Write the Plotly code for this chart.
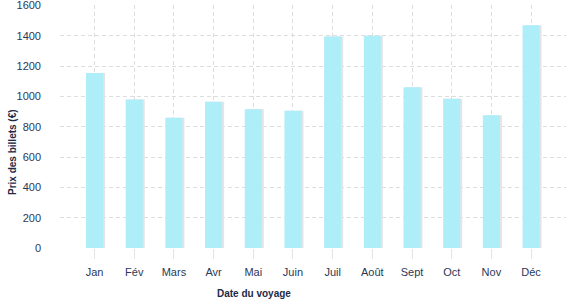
import plotly.graph_objects as go

months = ["Jan", "Fév", "Mars", "Avr", "Mai", "Juin", "Juil", "Août", "Sept", "Oct", "Nov", "Déc"]
prices = [1155, 980, 860, 965, 915, 905, 1395, 1400, 1060, 985, 875, 1470]
y_ticks = [0, 200, 400, 600, 800, 1000, 1200, 1400, 1600]

bar_w = 0.43
fig = go.Figure()
# soft shadow behind each bar
fig.add_trace(go.Bar(x=months, y=prices, width=bar_w, offset=-bar_w / 2 + 0.05,
                     marker=dict(color="#e4e4e4", line=dict(width=0)),
                     hoverinfo="skip", showlegend=False))
fig.add_trace(go.Bar(x=months, y=prices, width=bar_w, offset=-bar_w / 2,
                     marker=dict(color="#aeeef8", line=dict(width=0)),
                     showlegend=False))

font_family = "Liberation Sans, Arial, sans-serif"
text_col = "#2b3856"

fig.update_layout(
    width=577, height=300,
    margin=dict(l=60, r=11, t=5, b=52),
    paper_bgcolor="white", plot_bgcolor="white",
    barmode="overlay",
    font=dict(family=font_family, size=11, color=text_col),
    xaxis=dict(
        type="category", range=[-0.87, 11.88], automargin=False,
        showgrid=True, gridcolor="#dddddd", griddash="4px,3px", gridwidth=1,
        ticks="outside", ticklen=10, tickcolor="#e4e4e4", tickwidth=1,
        ticklabelstandoff=4,
        showline=False, zeroline=False,
        tickfont=dict(size=11, color=text_col),
    ),
    yaxis=dict(
        range=[0, 1603], tickvals=y_ticks, automargin=False,
        showgrid=True, gridcolor="#dddddd", griddash="4px,3px", gridwidth=1,
        ticks="", showline=False, zeroline=False,
        ticklabelstandoff=18, ticklabeloverflow="allow",
        tickfont=dict(size=11, color=text_col),
    ),
    annotations=[
        dict(text="<b>Date du voyage</b>", xref="paper", yref="paper",
             x=(254 - 60) / (566 - 60), y=(248 - 293) / 243, xanchor="center", yanchor="middle",
             showarrow=False, font=dict(size=10, color="#1e2b45")),
        dict(text="<b>Prix des billets (€)</b>", xref="paper", yref="paper",
             x=(12 - 60) / (566 - 60), y=(248 - 152) / 243, xanchor="center", yanchor="middle",
             textangle=-90, showarrow=False, font=dict(size=10, color="#1e2b45")),
    ],
)

fig.write_html("out.html")
